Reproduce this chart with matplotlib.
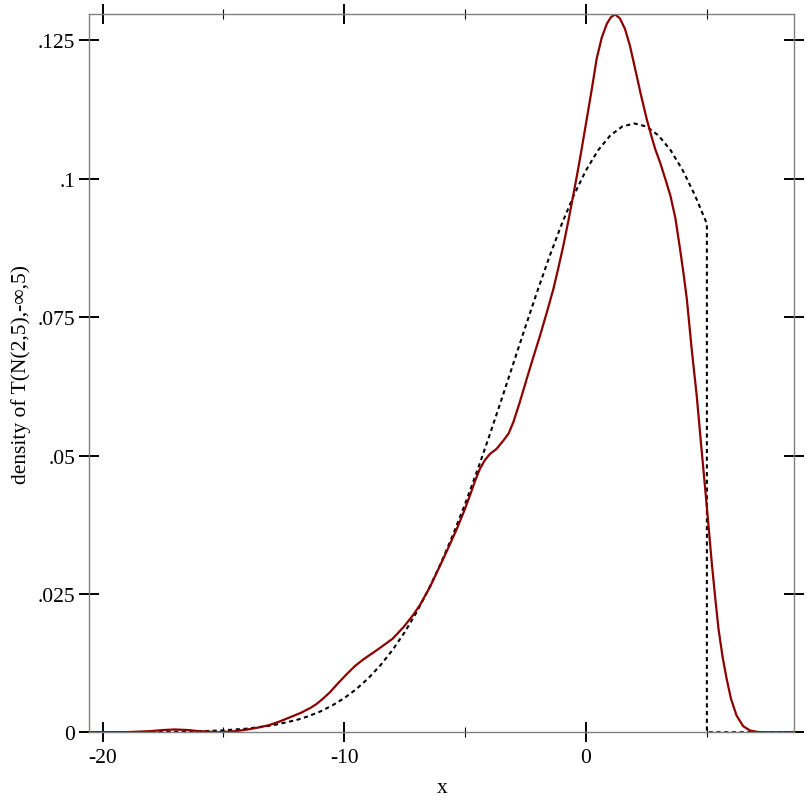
import numpy as np
import matplotlib.pyplot as plt
from matplotlib.ticker import FixedLocator, FixedFormatter

plt.rcParams['font.family'] = ['Liberation Serif', 'DejaVu Serif']

# kernel density estimate of samples
kde_x = [-20.55, -19.0, -18.0, -17.5, -17.0, -16.5, -16.0, -15.2, -14.5, -14.0,
         -13.5, -13.1, -12.7, -12.25, -11.8, -11.4, -11.15, -10.9, -10.6, -10.25,
         -9.9, -9.55, -9.2, -8.6, -8.0, -7.55, -7.15, -6.87, -6.45, -6.04,
         -5.7, -5.35, -5.05, -4.8, -4.6, -4.39, -4.18, -3.97, -3.7, -3.42,
         -3.2, -3.01, -2.75, -2.45, -2.2, -1.9, -1.6, -1.35, -1.15, -0.94,
         -0.73, -0.53, -0.35, -0.18, 0.03, 0.25, 0.44, 0.65, 0.86, 1.03,
         1.2, 1.4, 1.61, 1.82, 2.03, 2.27, 2.51, 2.7, 2.86, 3.06,
         3.3, 3.5, 3.7, 3.89, 4.03, 4.17, 4.37, 4.58, 4.75, 4.93,
         5.07, 5.2, 5.34, 5.48, 5.65, 5.82, 6.0, 6.23, 6.5, 6.79,
         7.1, 7.4, 8.61]
kde_y = [0.0, 0.00002, 0.0002, 0.0004, 0.0005, 0.0004, 0.0002, 0.0, 0.0002, 0.0005,
         0.0009, 0.0013, 0.0019, 0.0027, 0.0035, 0.0044, 0.0051, 0.0060, 0.0072, 0.0089,
         0.0105, 0.0120, 0.0132, 0.0150, 0.0169, 0.0190, 0.0212, 0.0230, 0.0263, 0.0301,
         0.0333, 0.0367, 0.0399, 0.0428, 0.0453, 0.0476, 0.0492, 0.0503, 0.0512, 0.0527,
         0.0540, 0.0560, 0.0595, 0.0639, 0.0675, 0.0717, 0.0762, 0.0801, 0.0838, 0.0879,
         0.0924, 0.0970, 0.1012, 0.1054, 0.1108, 0.1165, 0.1217, 0.1255, 0.1280, 0.1292,
         0.1297, 0.1290, 0.1271, 0.1240, 0.1199, 0.1152, 0.1108, 0.1078, 0.1054, 0.1030,
         0.0997, 0.0968, 0.0928, 0.0873, 0.0830, 0.0783, 0.0693, 0.0608, 0.0525, 0.0440,
         0.0372, 0.0307, 0.0245, 0.0187, 0.0136, 0.0096, 0.0060, 0.0030, 0.0011, 0.0003,
         0.00005, 0.0, 0.0]

# truncated normal density T(N(2,5),-inf,5)
pdf_x = [-20.55, -20.0, -18.0, -16.0, -15.0, -14.0, -13.0, -12.0, -11.5, -11.0,
         -10.5, -10.0, -9.5, -9.0, -8.5, -8.0, -7.5, -7.0, -6.5, -6.0,
         -5.5, -5.0, -4.5, -4.0, -3.5, -3.0, -2.5, -2.0, -1.5, -1.0,
         -0.5, 0.0, 0.5, 1.0, 1.5, 2.0, 2.5, 3.0, 3.5, 4.0,
         4.5, 5.0, 5.0, 8.61]
pdf_y = [0.000004, 0.000007, 0.000037, 0.00017, 0.00034, 0.00066, 0.00122, 0.00218, 0.00287, 0.00374,
         0.00483, 0.00617, 0.00781, 0.00978, 0.01213, 0.01489, 0.01809, 0.02177, 0.02593, 0.03058,
         0.03572, 0.04128, 0.04725, 0.05355, 0.06007, 0.06672, 0.07337, 0.07987, 0.08610, 0.09188,
         0.09708, 0.10154, 0.10516, 0.10782, 0.10945, 0.1100, 0.10945, 0.10782, 0.10516, 0.10154,
         0.09708, 0.09188, 0.0, 0.0]

x_ticks = [-20, -10, 0]
x_minor = [-15, -5, 5]
y_ticks = [0, 0.025, 0.05, 0.075, 0.1, 0.125]
y_labels = ['0', '.025', '.05', '.075', '.1', '.125']

fig = plt.figure(figsize=(8.12, 8.12), dpi=100)
ax = fig.add_axes([0.110, 0.097, 0.868, 0.884])

ax.plot(pdf_x, pdf_y, color='black', lw=1.5, linestyle=(0, (2.0, 1.7)))
ax.plot(kde_x, kde_y, color='#8b0000', lw=1.6)

ax.set_xlim(-20.55, 8.61)
ax.set_ylim(0, 0.1297)

for s in ax.spines.values():
    s.set_color('#808080')
    s.set_linewidth(1.0)

ax.xaxis.set_major_locator(FixedLocator(x_ticks))
ax.xaxis.set_minor_locator(FixedLocator(x_minor))
ax.set_xticklabels([str(t) for t in x_ticks])
ax.yaxis.set_major_locator(FixedLocator(y_ticks))
ax.yaxis.set_major_formatter(FixedFormatter(y_labels))

ax.tick_params(which='major', direction='inout', length=14.4, width=1.4, color='black',
               top=True, right=True, labelsize=15.5, pad=3)
ax.tick_params(which='minor', direction='inout', length=7.2, width=0.8, color='black',
               top=True, right=True)
ax.tick_params(axis='x', which='major', pad=4)

ax.set_xlabel('x', fontsize=15.5, labelpad=8)
ax.set_ylabel('density of T(N(2,5),-∞,5)', fontsize=15.5, labelpad=5)

fig.savefig('out.png', dpi=100)
